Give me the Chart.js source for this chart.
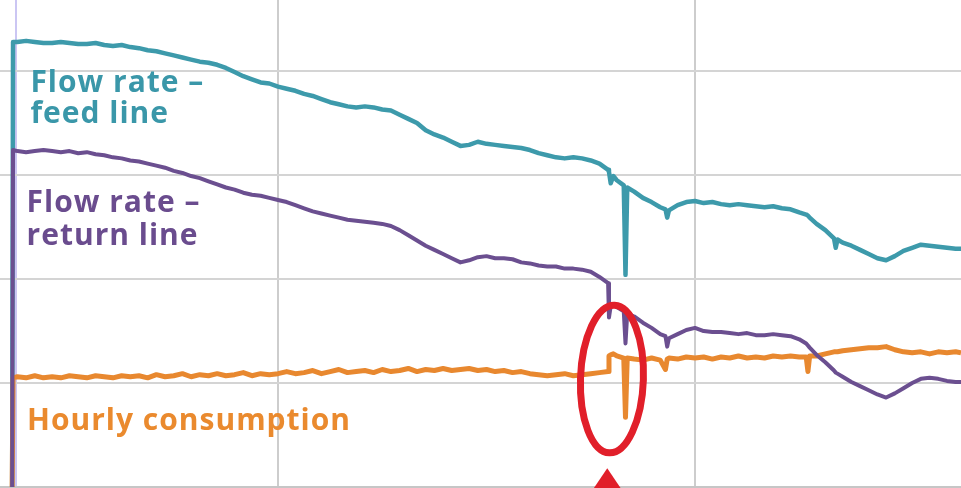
<!DOCTYPE html>
<html lang="en">
<head>
<meta charset="UTF-8">
<title>Flow rate and hourly consumption</title>
<script src="https://cdn.jsdelivr.net/npm/chart.js@4"></script>
<style>
    html, body {
        margin: 0;
        padding: 0;
        background: #fff;
    }
    .wrap {
        width: 961px;
        height: 488px;
        position: relative;
    }
</style>
</head>
<body>
<div class="wrap"><canvas id="flowChart"></canvas></div>
<script>
// time axis (hours), shared by all three series
var hours = [
    8.7, 8.75, 9, 9.5, 10, 10.5, 11, 11.5, 12, 12.5,
    13, 13.5, 14, 14.5, 15, 15.5, 16, 16.5, 17, 17.5,
    18, 18.5, 19, 19.5, 20, 20.5, 21, 21.5, 22, 22.5,
    23, 23.5, 24, 24.5, 25, 25.5, 26, 26.5, 27, 27.5,
    28, 28.5, 29, 29.5, 30, 30.5, 31, 31.5, 32, 32.5,
    33, 33.5, 34, 34.5, 35, 35.5, 36, 36.5, 37, 37.5,
    38, 38.5, 39, 39.5, 40, 40.5, 41, 41.5, 42, 42.5,
    43, 43.05, 43.15, 43.3, 43.5, 43.9, 44, 44.1, 44.5,
    45, 45.5, 46, 46.3, 46.4, 46.5, 47, 47.5, 48, 48.5,
    49, 49.5, 50, 50.5, 51, 51.5, 52, 52.5, 53, 53.5,
    54, 54.4, 54.5, 54.6, 55, 55.5, 56, 56.1, 56.2, 56.5,
    57, 57.5, 58, 58.5, 59, 59.5, 60, 60.5, 61, 61.5,
    62, 62.5, 63, 63.31
];

var feedLine = [
    0, 428, 428, 429, 428, 427, 427, 428, 427, 426,
    426, 427, 425, 424, 425, 423, 422, 420, 419, 417,
    415, 413, 411, 409, 408, 406, 403, 399, 395, 392,
    389, 388, 385, 383, 381, 378, 376, 373, 370, 368,
    366, 365, 366, 365, 363, 362, 358, 354, 350, 343,
    339, 336, 332, 328, 329, 332, 330, 329, 328, 327,
    326, 324, 321, 319, 317, 316, 317, 316, 314, 311,
    305, 303, 292, 299, 295, 290, 204, 288, 284,
    278, 274, 269, 267, 259, 266, 271, 274, 275, 273,
    274, 272, 271, 272, 271, 270, 269, 270, 268, 267,
    264, 262, 261, 259, 253, 247, 239, 230, 238, 235,
    232, 228, 224, 220, 218, 222, 227, 230, 233, 232,
    231, 230, 229, 229
];

var returnLine = [
    0, 324, 323, 322, 323, 324, 323, 322, 323, 321,
    322, 320, 319, 317, 316, 314, 313, 311, 309, 307,
    304, 302, 299, 297, 294, 291, 288, 286, 283, 281,
    280, 278, 276, 274, 271, 268, 265, 263, 261, 259,
    257, 256, 255, 254, 253, 251, 247, 242, 237, 232,
    228, 224, 220, 216, 218, 221, 222, 220, 220, 219,
    216, 215, 213, 212, 212, 210, 210, 209, 207, 202,
    196, 163, 174, 175, 173, 169, 138, 167, 164,
    158, 153, 147, 145, 135, 143, 147, 151, 153, 150,
    149, 149, 148, 147, 148, 146, 146, 147, 146, 145,
    142, 138, 136, 134, 127, 120, 112, 110, 109, 106,
    101, 97, 93, 89, 86, 90, 95, 100, 104, 105,
    104, 102, 101, 101
];

var hourlyConsumption = [
    0, 105, 106, 105, 107, 105, 106, 105, 107, 106,
    105, 107, 106, 105, 107, 106, 107, 105, 108, 106,
    107, 109, 106, 108, 107, 109, 107, 108, 110, 107,
    109, 108, 109, 111, 109, 110, 112, 109, 111, 113,
    110, 111, 112, 110, 113, 111, 112, 114, 111, 113,
    112, 114, 112, 113, 114, 112, 113, 111, 112, 110,
    111, 109, 108, 107, 108, 109, 107, 108, 109, 110,
    111, 126, 127, 128, 126, 124, 67, 124, 123,
    122, 124, 122, 113, 123, 124, 123, 125, 124, 125,
    123, 125, 124, 126, 124, 125, 124, 126, 125, 126,
    125, 125, 111, 126, 126, 128, 130, 130, 130, 131,
    132, 133, 134, 134, 135, 132, 130, 129, 130, 128,
    130, 129, 130, 129
];

var xGrid = [8.92, 24, 48];
var yGrid = [100, 200, 300, 400];

// series captions placed in data space
var captions = [
    { text: 'Flow rate \u2013', color: '#3a97a9', t: 9.75, v: 380 },
    { text: 'feed line', color: '#3a97a9', t: 9.75, v: 350 },
    { text: 'Flow rate \u2013', color: '#6a4c8e', t: 9.53, v: 264 },
    { text: 'return line', color: '#6a4c8e', t: 9.53, v: 233 },
    { text: 'Hourly consumption', color: '#ea8a2e', t: 9.55, v: 55 }
];

// red marker round the step at ~43 h
var markHour = 43.22;
var markLevel = 103.8;
var arrowHour = 42.95;

if (hours.length !== feedLine.length || hours.length !== returnLine.length || hours.length !== hourlyConsumption.length) {
    console.warn('length mismatch', hours.length, feedLine.length, returnLine.length, hourlyConsumption.length);
}

function pts(arr) {
    return hours.map(function (h, i) { return { x: h, y: arr[i] }; });
}

var overlay = {
    id: 'overlay',
    afterDatasetsDraw: function (chart) {
        var ctx = chart.ctx;
        var xs = chart.scales.x;
        var ys = chart.scales.y;
        ctx.save();
        ctx.font = 'bold 30px "Open Sans"';
        ctx.letterSpacing = '1px';
        ctx.textBaseline = 'alphabetic';
        captions.forEach(function (c) {
            ctx.fillStyle = c.color;
            ctx.fillText(c.text, xs.getPixelForValue(c.t), ys.getPixelForValue(c.v));
        });

        var cx = xs.getPixelForValue(markHour);
        var cy = ys.getPixelForValue(markLevel);
        var rx = xs.getPixelForValue(markHour + 1.81) - cx;
        var ry = cy - ys.getPixelForValue(markLevel + 71);
        ctx.strokeStyle = '#e11f2a';
        ctx.lineWidth = 7;
        ctx.beginPath();
        ctx.ellipse(cx, cy, rx, ry, 0.035, 0, Math.PI * 2);
        ctx.stroke();

        var ax = xs.getPixelForValue(arrowHour);
        var ay = ys.getPixelForValue(18);
        ctx.fillStyle = '#e11f2a';
        ctx.beginPath();
        ctx.moveTo(ax, ay);
        ctx.lineTo(ax + 14, chart.height + 1);
        ctx.lineTo(ax - 14, chart.height + 1);
        ctx.closePath();
        ctx.fill();
        ctx.restore();
    }
};

var chart = new Chart(document.getElementById('flowChart'), {
    type: 'line',
    data: {
        datasets: [
            { label: 'Flow rate - return line', data: pts(returnLine), borderColor: '#6b4f90', borderWidth: 4, order: 1 },
            { label: 'Hourly consumption', data: pts(hourlyConsumption), borderColor: '#e8882f', borderWidth: 5, order: 2 },
            { label: 'Flow rate - feed line', data: pts(feedLine), borderColor: '#3d9aab', borderWidth: 4.5, order: 3 }
        ]
    },
    options: {
        responsive: true,
        maintainAspectRatio: false,
        animation: false,
        layout: { padding: { left: 0, right: 0, top: 0, bottom: 1 } },
        elements: { point: { radius: 0 }, line: { tension: 0, borderJoinStyle: 'round' } },
        plugins: { legend: { display: false }, tooltip: { enabled: false } },
        scales: {
            x: {
                type: 'linear',
                min: 8,
                max: 63.31,
                afterBuildTicks: function (axis) {
                    axis.ticks = xGrid.map(function (v) { return { value: v }; });
                },
                ticks: { display: false },
                grid: {
                    drawTicks: false,
                    lineWidth: 2,
                    color: function (c) { return c.tick && c.tick.value < 10 ? '#cbc6f3' : '#cdcdcd'; }
                },
                border: { display: true, color: '#c6c6c6', width: 2 }
            },
            y: {
                min: 0,
                max: 468.3,
                afterBuildTicks: function (axis) {
                    axis.ticks = yGrid.map(function (v) { return { value: v }; });
                },
                ticks: { display: false },
                grid: { drawTicks: false, lineWidth: 2, color: '#d4d4d4' },
                border: { display: false }
            }
        }
    },
    plugins: [overlay]
});
</script>
</body>
</html>
